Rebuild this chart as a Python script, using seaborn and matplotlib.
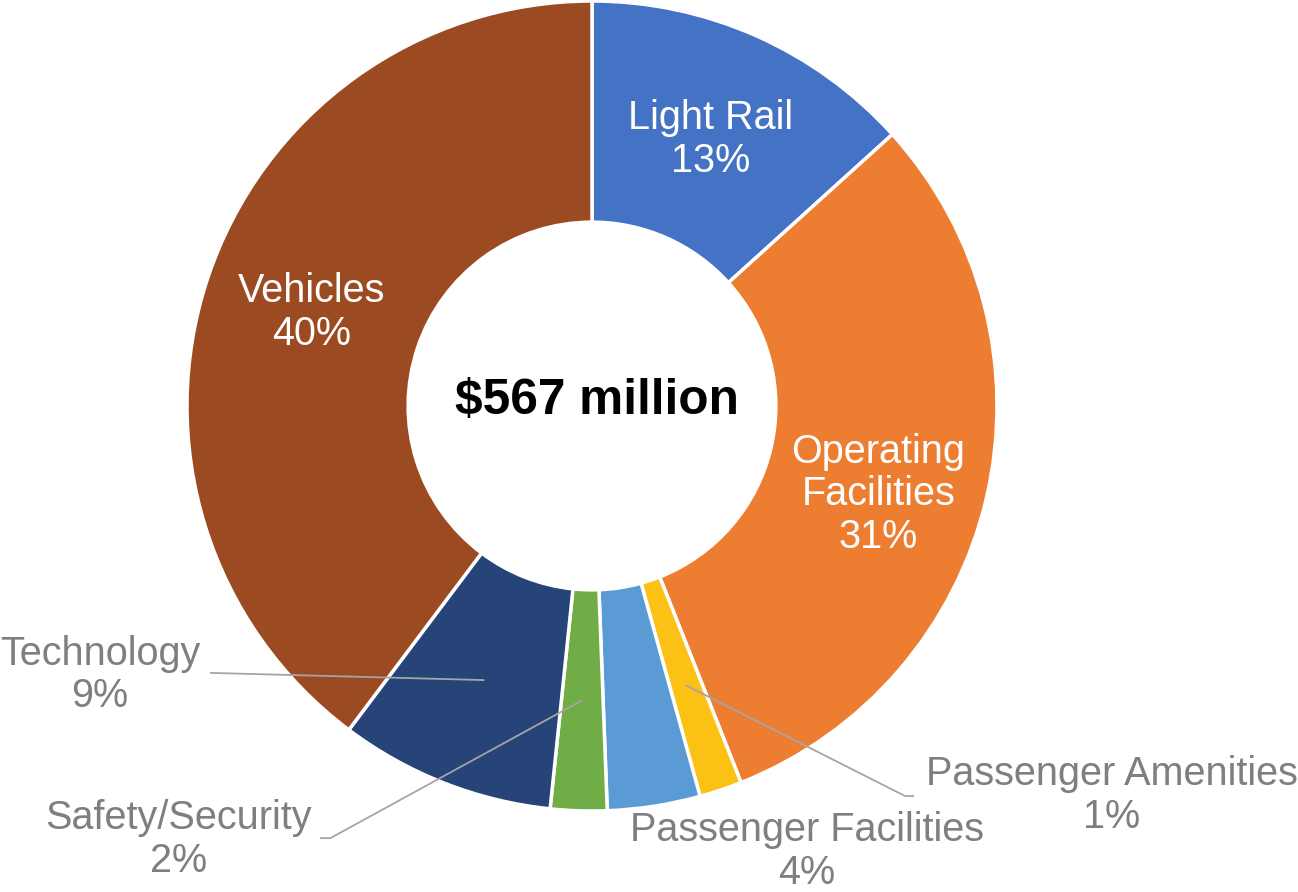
import numpy as np
import matplotlib
matplotlib.use("Agg")
import matplotlib.pyplot as plt
import seaborn as sns

sns.set_theme(style="white")
plt.rcParams['font.family'] = ['Liberation Sans', 'DejaVu Sans']

# ===== data =====
categories = ["Light Rail", "Operating\nFacilities", "Passenger Amenities", "Passenger Facilities",
              "Safety/Security", "Technology", "Vehicles"]
shares = [13.3, 30.7, 1.7, 3.7, 2.25, 8.6, 39.75]      # share of $567M
pct_labels = ["13%", "31%", "1%", "4%", "2%", "9%", "40%"]
total_label = "$567 million"

colors = sns.color_palette(["#4472C4", "#ED7D31", "#FBC115", "#5B9BD5",
                            "#70AD47", "#264478", "#9C4A22"])

# ===== layout (pixels -> data units, center at 592,406, R = 405px) =====
W, H = 1298, 892
CX, CY, R = 592, 406, 405
RING = 0.546
FS = 28.5

# outside labels: text center, leader path (text side) in data units
outside = {
    "Technology": dict(text=(-1.215, -0.664), path=[(-0.943, -0.659)]),
    "Safety/Security": dict(text=(-1.022, -1.070), path=[(-0.672, -1.067), (-0.646, -1.067)]),
    "Passenger Facilities": dict(text=(0.530, -1.100), path=None),
    "Passenger Amenities": dict(text=(1.284, -0.962), path=[(0.795, -0.963), (0.773, -0.963)]),
}
inside_r = {"Light Rail": 0.72, "Operating\nFacilities": 0.74, "Vehicles": 0.73}
inside_shift = {"Operating\nFacilities": -4.0}   # degrees

fig = plt.figure(figsize=(W / 100, H / 100), dpi=100)
ax = fig.add_axes([0, 0, 1, 1])

wedges, _ = ax.pie(shares, colors=colors, startangle=90, counterclock=False,
                   wedgeprops=dict(width=RING, edgecolor="white", linewidth=2.5))

ax.set_xlim(-CX / R, (W - CX) / R)
ax.set_ylim(-(H - CY) / R, CY / R)
ax.set_aspect("auto")
ax.axis("off")

mid_r = 1 - RING / 2
grey = "#7F7F7F"
for w, cat, pct in zip(wedges, categories, pct_labels):
    ang = np.deg2rad((w.theta1 + w.theta2) / 2 + inside_shift.get(cat, 0))
    if cat in inside_r:
        r = inside_r[cat]
        ax.text(r * np.cos(ang), r * np.sin(ang), f"{cat}\n{pct}", ha="center", va="center",
                color="white", fontsize=FS, linespacing=1.15)
    else:
        o = outside[cat]
        ax.text(*o["text"], f"{cat}\n{pct}", ha="center", va="center",
                color=grey, fontsize=FS, linespacing=1.15)
        if o["path"]:
            ang0 = np.deg2rad((w.theta1 + w.theta2) / 2)
            pts = [(mid_r * np.cos(ang0), mid_r * np.sin(ang0))] + o["path"][::-1]
            xs, ys = zip(*pts)
            ax.plot(xs, ys, color="#A5A5A5", lw=1.3, solid_capstyle="butt")

ax.text(0.013, 0.013, total_label, ha="center", va="center", fontsize=35.7,
        fontweight="bold", color="black", parse_math=False)

fig.savefig("out.png", dpi=100, facecolor="white")
